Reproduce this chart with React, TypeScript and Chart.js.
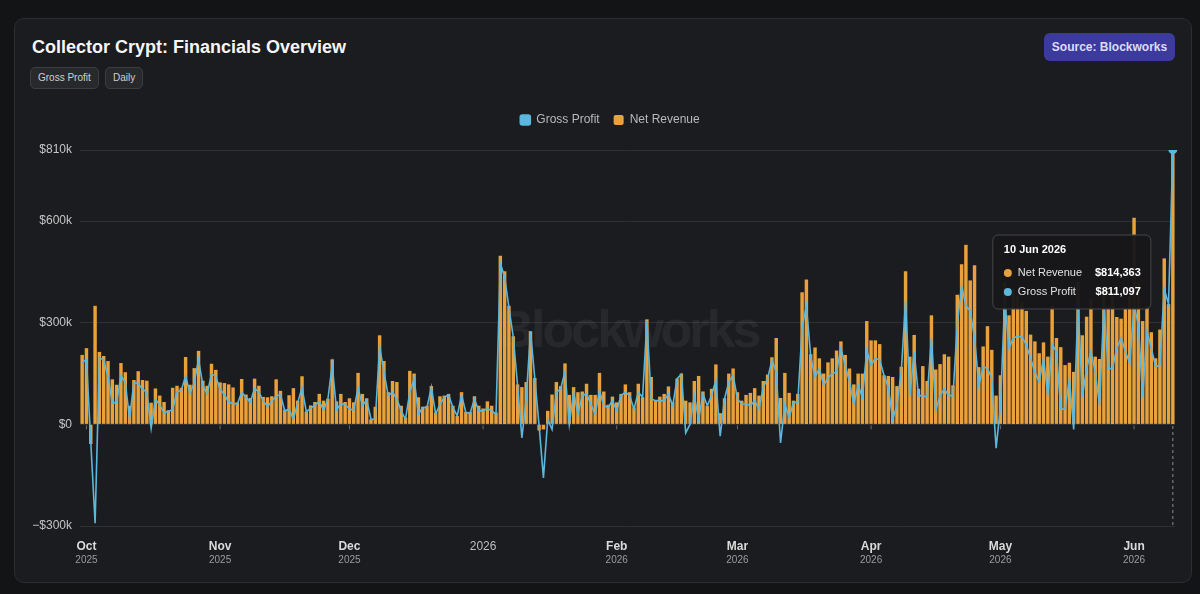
import React, { useEffect, useRef } from "react";
import { Chart, registerables } from "chart.js";

Chart.register(...registerables);

const FONT = '"Liberation Sans", Arial, Helvetica, sans-serif';

const MONTH_NAMES = ["Jan", "Feb", "Mar", "Apr", "May", "Jun", "Jul", "Aug", "Sep", "Oct", "Nov", "Dec"];

// Daily categories: 30 Sep 2025 .. 10 Jun 2026
const firstDay = Date.UTC(2025, 8, 30);
const lastDay = Date.UTC(2026, 5, 10);
const dayLabels: string[] = [];
for (let t = firstDay; t <= lastDay; t += 86400000) {
  const d = new Date(t);
  dayLabels.push(`${d.getUTCDate()} ${MONTH_NAMES[d.getUTCMonth()]} ${d.getUTCFullYear()}`);
}

// Net Revenue, in $k
const netRevenueK = [
  205, 225, -58, 350, 214, 202, 187, 133, 117, 181,
  154, 55, 131, 157, 131, 129, 64, 106, 85, 66,
  42, 108, 114, 108, 199, 117, 166, 217, 129, 114,
  179, 161, 124, 122, 118, 109, 65, 134, 88, 78,
  135, 114, 81, 80, 83, 133, 99, 43, 86, 107,
  70, 142, 38, 56, 66, 90, 70, 76, 192, 68,
  90, 66, 77, 65, 152, 90, 77, 15, 52, 263,
  187, 95, 128, 125, 55, 20, 158, 150, 80, 52,
  55, 113, 35, 83, 85, 90, 55, 25, 95, 37,
  37, 83, 55, 47, 68, 55, 35, 498, 452, 350,
  260, 118, 110, 125, 275, 137, -18, -15, 40, 88,
  125, 113, 180, 87, 110, 95, 97, 120, 87, 87,
  152, 97, 58, 82, 65, 90, 118, 95, 50, 120,
  80, 310, 140, 70, 82, 90, 112, 65, 135, 150,
  70, 65, 128, 143, 97, 55, 105, 177, 33, 77,
  150, 165, 95, 70, 87, 93, 107, 85, 128, 147,
  198, 255, 78, 152, 93, 70, 90, 390, 428, 207,
  227, 195, 150, 183, 195, 218, 245, 205, 165, 118,
  150, 150, 305, 248, 248, 237, 145, 143, 140, 113,
  170, 452, 200, 264, 105, 172, 128, 322, 162, 178,
  207, 200, 115, 383, 473, 530, 425, 470, 169, 230,
  290, 220, 85, 145, 420, 322, 400, 380, 360, 335,
  265, 245, 210, 242, 200, 350, 255, 228, 175, 182,
  155, 420, 263, 318, 370, 200, 193, 400, 350, 380,
  317, 312, 343, 380, 610, 420, 305, 350, 272, 195,
  280, 490, 355, 814.363,
];

// Gross Profit, in $k
const grossProfitK = [
  182, 192, -52, -292, 197, 190, 140, 62, 66, 144,
  124, 16, 125, 120, 104, 95, -12, 75, 57, 34,
  38, 44, 96, 101, 143, 92, 123, 191, 115, 90,
  149, 142, 103, 88, 65, 62, 60, 95, 80, 65,
  106, 95, 70, 52, 68, 83, 88, 40, 45, 15,
  65, 108, 37, 48, 56, 68, 42, 74, 176, 42,
  62, 58, 46, 42, 108, 55, 72, 15, 15, 230,
  155, 85, 95, 75, 40, 15, 95, 135, 30, 50,
  50, 110, 30, 60, 80, 87, 50, 25, 87, 35,
  33, 75, 40, 40, 47, 40, 30, 475, 435, 345,
  258, 115, -40, 75, 275, 135, -5, -158, 15, -15,
  95, 105, 155, 0, 95, 30, 85, 90, 60, 30,
  100, 55, 50, 70, 40, 85, 95, 85, 45, 95,
  80, 305, 75, 70, 70, 70, 90, 55, 135, 148,
  -25, 0, 85, 15, 90, 55, 85, 130, -35, 75,
  125, 145, 75, 60, 60, 55, 70, 45, 110, 135,
  190, 155, -55, 60, 20, 65, 65, 285, 350, 200,
  140, 165, 115, 137, 150, 155, 225, 175, 125, 60,
  115, 80, 218, 175, 195, 190, 145, 110, 15, 55,
  155, 365, 85, 215, 85, 85, 80, 255, 40, 85,
  105, 85, 85, 295, 410, 350, 335, 255, 115, 170,
  165, 135, -70, 50, 370, 225, 255, 260, 258, 235,
  195, 155, 125, 195, 85, 235, 215, 45, 45, 135,
  -15, 360, 80, 165, 215, 155, 55, 350, 165, 165,
  225, 255, 215, 180, 350, 295, 80, 275, 225, 170,
  175, 400, 355, 811.097,
];

const netRevenue = netRevenueK.map((v) => Math.round(v * 1000));
const grossProfit = grossProfitK.map((v) => Math.round(v * 1000));

const yTicks = [-300000, 0, 300000, 600000, 810000];

const monthTicks = [
  { day: "1 Oct 2025", main: "Oct", sub: "2025" },
  { day: "1 Nov 2025", main: "Nov", sub: "2025" },
  { day: "1 Dec 2025", main: "Dec", sub: "2025" },
  { day: "1 Jan 2026", main: "2026", sub: "" },
  { day: "1 Feb 2026", main: "Feb", sub: "2026" },
  { day: "1 Mar 2026", main: "Mar", sub: "2026" },
  { day: "1 Apr 2026", main: "Apr", sub: "2026" },
  { day: "1 May 2026", main: "May", sub: "2026" },
  { day: "1 Jun 2026", main: "Jun", sub: "2026" },
];

const ORANGE = "#e8a13b";
const BLUE = "#5bb7dd";

const fmtAxis = (v: number) => {
  if (v === 0) return "$0";
  const s = "$" + Math.round(Math.abs(v) / 1000) + "k";
  return v < 0 ? "\u2212" + s : s;
};
const fmtMoney = (v: number) => "$" + v.toLocaleString("en-US");

function roundRect(ctx: CanvasRenderingContext2D, x: number, y: number, w: number, h: number, r: number) {
  ctx.beginPath();
  ctx.moveTo(x + r, y);
  ctx.lineTo(x + w - r, y);
  ctx.quadraticCurveTo(x + w, y, x + w, y + r);
  ctx.lineTo(x + w, y + h - r);
  ctx.quadraticCurveTo(x + w, y + h, x + w - r, y + h);
  ctx.lineTo(x + r, y + h);
  ctx.quadraticCurveTo(x, y + h, x, y + h - r);
  ctx.lineTo(x, y + r);
  ctx.quadraticCurveTo(x, y, x + r, y);
  ctx.closePath();
}

const decorPlugin = {
  id: "decor",
  afterLayout(chart: any) {
    // centre the legend where the reference has it
    if (chart.legend) chart.legend.left += 13;
  },
  beforeDatasetsDraw(chart: any) {
    const { ctx, chartArea } = chart;
    const x = chart.scales.x;
    ctx.save();
    // watermark
    ctx.font = `bold 52px ${FONT}`;
    (ctx as any).letterSpacing = "-3px";
    ctx.fillStyle = "rgba(255,255,255,0.055)";
    ctx.textAlign = "center";
    ctx.textBaseline = "middle";
    ctx.fillText("Blockworks", (chartArea.left + chartArea.right) / 2, (chartArea.top + chartArea.bottom) / 2 - 5);
    (ctx as any).letterSpacing = "0px";
    // crosshair on hovered day
    const px = x.getPixelForValue(dayLabels.length - 1);
    ctx.strokeStyle = "#8b8c90";
    ctx.lineWidth = 1;
    ctx.setLineDash([3, 3]);
    ctx.beginPath();
    ctx.moveTo(px, chartArea.top);
    ctx.lineTo(px, chartArea.bottom);
    ctx.stroke();
    ctx.restore();
  },
  afterDraw(chart: any) {
    const { ctx, chartArea } = chart;
    const x = chart.scales.x;
    const y = chart.scales.y;
    ctx.save();
    // month tick marks at zero line + labels
    const y0 = y.getPixelForValue(0);
    for (const m of monthTicks) {
      const idx = dayLabels.indexOf(m.day);
      if (idx < 0) continue;
      const px = x.getPixelForValue(idx);
      ctx.strokeStyle = "#6a6b70";
      ctx.lineWidth = 1;
      ctx.beginPath();
      ctx.moveTo(px, y0 + 1);
      ctx.lineTo(px, y0 + 5);
      ctx.stroke();
      ctx.textAlign = "center";
      ctx.textBaseline = "middle";
      if (m.sub) {
        ctx.font = `bold 12px ${FONT}`;
        ctx.fillStyle = "#dadada";
        ctx.fillText(m.main, px, chartArea.bottom + 21);
        ctx.font = `10px ${FONT}`;
        ctx.fillStyle = "#9c9c9c";
        ctx.fillText(m.sub, px, chartArea.bottom + 34);
      } else {
        ctx.font = `12px ${FONT}`;
        ctx.fillStyle = "#bdbdbd";
        ctx.fillText(m.main, px, chartArea.bottom + 21);
      }
    }
    // tooltip for the last day
    const idx = dayLabels.length - 1;
    const px = x.getPixelForValue(idx);
    const w = 158;
    const h = 74;
    const right = px - 22;
    const left = right - w;
    const top = chartArea.top + 85;
    roundRect(ctx, left, top, w, h, 6);
    ctx.fillStyle = "rgba(23,23,25,0.96)";
    ctx.fill();
    ctx.strokeStyle = "#46474c";
    ctx.lineWidth = 1;
    ctx.stroke();
    ctx.textBaseline = "middle";
    ctx.textAlign = "left";
    ctx.font = `bold 11px ${FONT}`;
    ctx.fillStyle = "#ffffff";
    ctx.fillText(dayLabels[idx], left + 11, top + 15);
    const rows = [
      { label: "Net Revenue", value: netRevenue[idx], color: ORANGE },
      { label: "Gross Profit", value: grossProfit[idx], color: BLUE },
    ];
    rows.forEach((r, i) => {
      const ry = top + 38 + i * 19;
      ctx.beginPath();
      ctx.arc(left + 15, ry, 4, 0, Math.PI * 2);
      ctx.fillStyle = r.color;
      ctx.fill();
      ctx.textAlign = "left";
      ctx.font = `11px ${FONT}`;
      ctx.fillStyle = "#e2e2e2";
      ctx.fillText(r.label, left + 25, ry);
      ctx.textAlign = "right";
      ctx.font = `bold 11px ${FONT}`;
      ctx.fillStyle = "#ffffff";
      ctx.fillText(fmtMoney(r.value), right - 10, ry);
    });
    ctx.restore();
  },
};

function FinancialsChart() {
  const ref = useRef<HTMLCanvasElement | null>(null);
  useEffect(() => {
    if (!ref.current) return;
    Chart.defaults.font.family = FONT;
    const last = dayLabels.length - 1;
    const chart = new Chart(ref.current, {
      type: "bar",
      data: {
        labels: dayLabels,
        datasets: [
          {
            type: "line",
            label: "Gross Profit",
            data: grossProfit,
            borderColor: BLUE,
            backgroundColor: BLUE,
            borderWidth: 1.6,
            tension: 0,
            pointRadius: (c: any) => (c.dataIndex === last ? 4.5 : 0),
            pointBackgroundColor: BLUE,
            pointBorderWidth: 0,
            order: 0,
          } as any,
          {
            type: "bar",
            label: "Net Revenue",
            data: netRevenue,
            backgroundColor: ORANGE,
            borderWidth: 0,
            barPercentage: 0.8,
            categoryPercentage: 1,
            order: 1,
          },
        ],
      },
      options: {
        responsive: false,
        animation: false,
        events: [],
        layout: { padding: { left: 32, right: 25, top: 100, bottom: 68 } },
        plugins: {
          legend: {
            display: true,
            position: "top",
            labels: {
              color: "#b9b9b9",
              font: { size: 12, family: FONT },
              boxWidth: 10,
              boxHeight: 10,
              padding: 14,
              useBorderRadius: true,
              borderRadius: 2,
            },
          },
          subtitle: {
            display: true,
            text: " ",
            color: "rgba(0,0,0,0)",
            position: "top",
            weight: 100,
            padding: 0,
            font: { size: 10, lineHeight: 1.4 },
          },
          tooltip: { enabled: false },
        },
        scales: {
          x: {
            type: "category",
            display: false,
            offset: true,
            grid: { display: false },
          },
          y: {
            min: -300000,
            max: 810000,
            afterBuildTicks: (s: any) => {
              s.ticks = yTicks.map((v) => ({ value: v }));
            },
            afterFit: (s: any) => {
              s.width = 48;
            },
            grid: { color: "#2f3034", lineWidth: 1, drawTicks: false },
            border: { display: false },
            ticks: {
              color: "#c6c6c6",
              font: { size: 12, family: FONT },
              padding: 8,
              callback: (v: any) => fmtAxis(Number(v)),
            },
          },
        },
      } as any,
      plugins: [decorPlugin],
    });
    return () => chart.destroy();
  }, []);
  return (
    <canvas
      ref={ref}
      width={1200}
      height={594}
      style={{ position: "absolute", left: 0, top: 0, width: 1200, height: 594 }}
    />
  );
}

export default function App() {
  const chip: React.CSSProperties = {
    position: "absolute",
    top: 67,
    height: 22,
    boxSizing: "border-box",
    padding: "0 7px",
    lineHeight: "20px",
    fontSize: 10,
    color: "#d0d0d0",
    background: "#28292d",
    border: "1px solid #3d3e43",
    borderRadius: 5,
    fontFamily: FONT,
    whiteSpace: "nowrap",
  };
  return (
    <div
      style={{
        position: "absolute",
        left: 0,
        top: 0,
        width: 1200,
        height: 594,
        background: "#131416",
        overflow: "hidden",
        fontFamily: FONT,
      }}
    >
      <div
        style={{
          position: "absolute",
          left: 14,
          top: 18,
          width: 1178,
          height: 565,
          boxSizing: "border-box",
          border: "1px solid #2d2e32",
          borderRadius: 10,
          background: "#1b1c1f",
        }}
      />
      <div
        style={{
          position: "absolute",
          left: 32,
          top: 38,
          fontSize: 18,
          lineHeight: "18px",
          fontWeight: "bold",
          color: "#f6f6f6",
          whiteSpace: "nowrap",
        }}
      >
        Collector Crypt: Financials Overview
      </div>
      <div style={{ ...chip, left: 30 }}>Gross Profit</div>
      <div style={{ ...chip, left: 105 }}>Daily</div>
      <div
        style={{
          position: "absolute",
          left: 1044,
          top: 33,
          width: 131,
          height: 28,
          borderRadius: 6,
          background: "#3c3a9d",
          color: "#dcdcf6",
          fontSize: 12,
          fontWeight: "bold",
          lineHeight: "28px",
          textAlign: "center",
          whiteSpace: "nowrap",
        }}
      >
        Source: Blockworks
      </div>
      <FinancialsChart />
    </div>
  );
}
